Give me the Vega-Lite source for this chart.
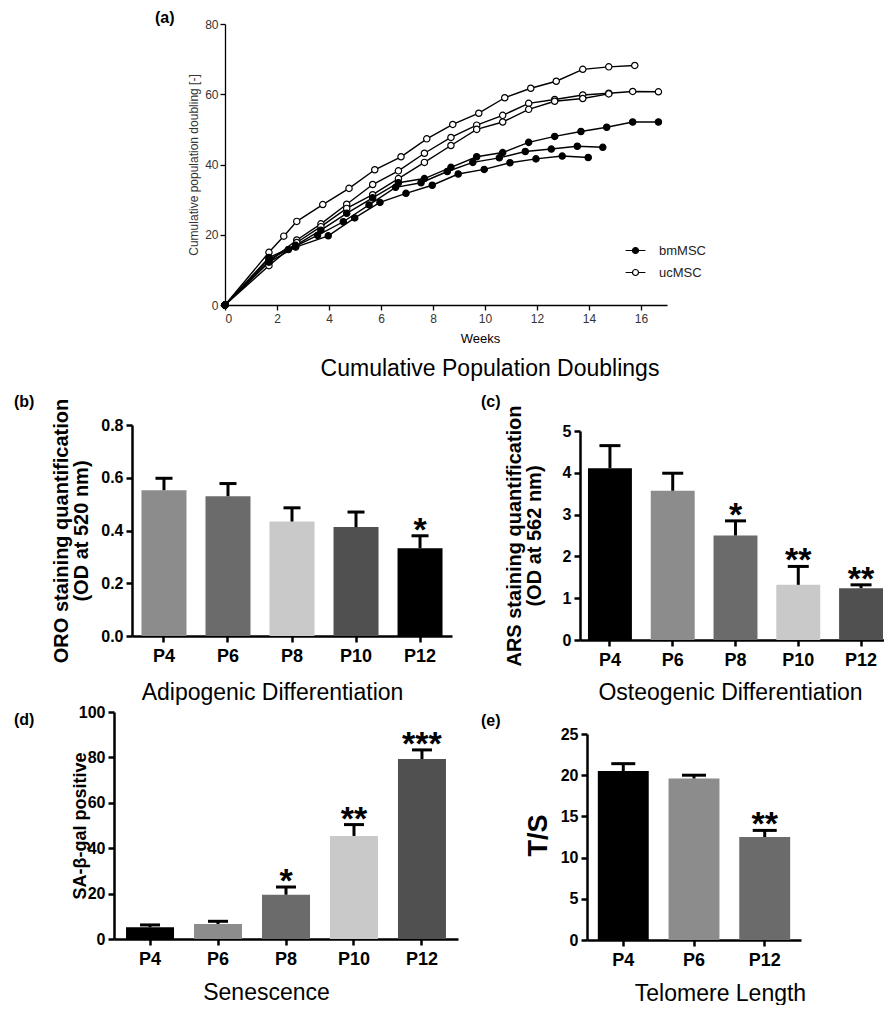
{
  "$schema": "https://vega.github.io/schema/vega-lite/v6.json",
  "background": "white",
  "padding": {"left": 13, "top": 10, "right": 0, "bottom": 0},
  "config": {
    "font": "Liberation Sans",
    "view": {"stroke": null},
    "axis": {"grid": false, "domainColor": "black", "tickColor": "black", "labelColor": "black", "titleColor": "black"},
    "title": {"font": "Liberation Sans", "fontWeight": "bold", "fontSize": 16, "anchor": "start", "frame": "group", "color": "black"}
  },
  "spacing": 0,
  "resolve": {"scale": {"color": "independent", "fill": "independent"}, "legend": {"fill": "independent"}},
  "vconcat": [
    {
      "spacing": 0,
      "resolve": {"scale": {"color": "independent", "fill": "independent"}, "legend": {"fill": "independent"}},
      "hconcat": [
        {"width": 142, "height": 10, "data": {"values": []}, "mark": "point", "encoding": {}},
        {
          "width": 442, "height": 281,
          "title": {"text": "(a)", "dx": -70, "offset": -8},
          "data": {"values": [
            {"run": "U1", "type": "ucMSC", "week": 0, "pd": 0},
            {"run": "U1", "type": "ucMSC", "week": 1.69, "pd": 15.0},
            {"run": "U1", "type": "ucMSC", "week": 2.26, "pd": 19.6},
            {"run": "U1", "type": "ucMSC", "week": 2.76, "pd": 23.8},
            {"run": "U1", "type": "ucMSC", "week": 3.76, "pd": 28.6},
            {"run": "U1", "type": "ucMSC", "week": 4.77, "pd": 33.2},
            {"run": "U1", "type": "ucMSC", "week": 5.76, "pd": 38.5},
            {"run": "U1", "type": "ucMSC", "week": 6.77, "pd": 42.2},
            {"run": "U1", "type": "ucMSC", "week": 7.76, "pd": 47.3},
            {"run": "U1", "type": "ucMSC", "week": 8.76, "pd": 51.4},
            {"run": "U1", "type": "ucMSC", "week": 9.76, "pd": 54.6},
            {"run": "U1", "type": "ucMSC", "week": 10.76, "pd": 59.0},
            {"run": "U1", "type": "ucMSC", "week": 11.76, "pd": 61.7},
            {"run": "U1", "type": "ucMSC", "week": 12.74, "pd": 63.7},
            {"run": "U1", "type": "ucMSC", "week": 13.76, "pd": 67.1},
            {"run": "U1", "type": "ucMSC", "week": 14.76, "pd": 67.8},
            {"run": "U1", "type": "ucMSC", "week": 15.76, "pd": 68.2},
            {"run": "U2", "type": "ucMSC", "week": 0, "pd": 0},
            {"run": "U2", "type": "ucMSC", "week": 1.69, "pd": 12.3},
            {"run": "U2", "type": "ucMSC", "week": 2.76, "pd": 18.5},
            {"run": "U2", "type": "ucMSC", "week": 3.69, "pd": 23.1},
            {"run": "U2", "type": "ucMSC", "week": 4.68, "pd": 28.7},
            {"run": "U2", "type": "ucMSC", "week": 5.68, "pd": 34.3},
            {"run": "U2", "type": "ucMSC", "week": 6.67, "pd": 38.2},
            {"run": "U2", "type": "ucMSC", "week": 7.67, "pd": 43.2},
            {"run": "U2", "type": "ucMSC", "week": 8.69, "pd": 47.7},
            {"run": "U2", "type": "ucMSC", "week": 9.68, "pd": 51.2},
            {"run": "U2", "type": "ucMSC", "week": 10.68, "pd": 54.0},
            {"run": "U2", "type": "ucMSC", "week": 11.68, "pd": 57.4},
            {"run": "U2", "type": "ucMSC", "week": 12.68, "pd": 58.5},
            {"run": "U2", "type": "ucMSC", "week": 13.76, "pd": 59.8},
            {"run": "U2", "type": "ucMSC", "week": 14.76, "pd": 60.3},
            {"run": "U2", "type": "ucMSC", "week": 15.68, "pd": 60.8},
            {"run": "U2", "type": "ucMSC", "week": 16.67, "pd": 60.7},
            {"run": "U3", "type": "ucMSC", "week": 0, "pd": 0},
            {"run": "U3", "type": "ucMSC", "week": 1.69, "pd": 11.2},
            {"run": "U3", "type": "ucMSC", "week": 2.76, "pd": 17.8},
            {"run": "U3", "type": "ucMSC", "week": 3.69, "pd": 22.3},
            {"run": "U3", "type": "ucMSC", "week": 4.68, "pd": 27.5},
            {"run": "U3", "type": "ucMSC", "week": 5.68, "pd": 31.4},
            {"run": "U3", "type": "ucMSC", "week": 6.67, "pd": 36.0},
            {"run": "U3", "type": "ucMSC", "week": 7.67, "pd": 40.6},
            {"run": "U3", "type": "ucMSC", "week": 8.69, "pd": 45.4},
            {"run": "U3", "type": "ucMSC", "week": 9.68, "pd": 50.0},
            {"run": "U3", "type": "ucMSC", "week": 10.68, "pd": 52.1},
            {"run": "U3", "type": "ucMSC", "week": 11.68, "pd": 55.7},
            {"run": "U3", "type": "ucMSC", "week": 12.68, "pd": 58.0},
            {"run": "U3", "type": "ucMSC", "week": 13.76, "pd": 58.8},
            {"run": "U3", "type": "ucMSC", "week": 14.76, "pd": 60.1},
            {"run": "B1", "type": "bmMSC", "week": 0, "pd": 0},
            {"run": "B1", "type": "bmMSC", "week": 1.69, "pd": 13.5},
            {"run": "B1", "type": "bmMSC", "week": 2.72, "pd": 17.0},
            {"run": "B1", "type": "bmMSC", "week": 3.69, "pd": 21.3},
            {"run": "B1", "type": "bmMSC", "week": 4.68, "pd": 26.1},
            {"run": "B1", "type": "bmMSC", "week": 5.68, "pd": 30.5},
            {"run": "B1", "type": "bmMSC", "week": 6.67, "pd": 34.8},
            {"run": "B1", "type": "bmMSC", "week": 7.67, "pd": 36.0},
            {"run": "B1", "type": "bmMSC", "week": 8.69, "pd": 39.2},
            {"run": "B1", "type": "bmMSC", "week": 9.68, "pd": 42.2},
            {"run": "B1", "type": "bmMSC", "week": 10.68, "pd": 43.4},
            {"run": "B1", "type": "bmMSC", "week": 11.68, "pd": 46.3},
            {"run": "B1", "type": "bmMSC", "week": 12.68, "pd": 48.0},
            {"run": "B1", "type": "bmMSC", "week": 13.69, "pd": 49.4},
            {"run": "B1", "type": "bmMSC", "week": 14.68, "pd": 50.6},
            {"run": "B1", "type": "bmMSC", "week": 15.68, "pd": 52.1},
            {"run": "B1", "type": "bmMSC", "week": 16.67, "pd": 52.1},
            {"run": "B2", "type": "bmMSC", "week": 0, "pd": 0},
            {"run": "B2", "type": "bmMSC", "week": 1.69, "pd": 13.0},
            {"run": "B2", "type": "bmMSC", "week": 2.44, "pd": 15.8},
            {"run": "B2", "type": "bmMSC", "week": 3.56, "pd": 19.8},
            {"run": "B2", "type": "bmMSC", "week": 4.55, "pd": 23.7},
            {"run": "B2", "type": "bmMSC", "week": 5.54, "pd": 28.5},
            {"run": "B2", "type": "bmMSC", "week": 6.56, "pd": 33.5},
            {"run": "B2", "type": "bmMSC", "week": 7.54, "pd": 34.8},
            {"run": "B2", "type": "bmMSC", "week": 8.55, "pd": 38.0},
            {"run": "B2", "type": "bmMSC", "week": 9.53, "pd": 40.6},
            {"run": "B2", "type": "bmMSC", "week": 10.55, "pd": 41.9},
            {"run": "B2", "type": "bmMSC", "week": 11.55, "pd": 43.7},
            {"run": "B2", "type": "bmMSC", "week": 12.55, "pd": 44.4},
            {"run": "B2", "type": "bmMSC", "week": 13.55, "pd": 45.2},
            {"run": "B2", "type": "bmMSC", "week": 14.53, "pd": 44.9},
            {"run": "B3", "type": "bmMSC", "week": 0, "pd": 0},
            {"run": "B3", "type": "bmMSC", "week": 1.69, "pd": 12.2},
            {"run": "B3", "type": "bmMSC", "week": 2.72, "pd": 16.5},
            {"run": "B3", "type": "bmMSC", "week": 3.97, "pd": 19.7},
            {"run": "B3", "type": "bmMSC", "week": 4.99, "pd": 24.8},
            {"run": "B3", "type": "bmMSC", "week": 5.96, "pd": 29.2},
            {"run": "B3", "type": "bmMSC", "week": 6.96, "pd": 31.8},
            {"run": "B3", "type": "bmMSC", "week": 7.97, "pd": 34.1},
            {"run": "B3", "type": "bmMSC", "week": 8.97, "pd": 37.3},
            {"run": "B3", "type": "bmMSC", "week": 9.97, "pd": 38.6},
            {"run": "B3", "type": "bmMSC", "week": 10.96, "pd": 40.5},
            {"run": "B3", "type": "bmMSC", "week": 11.96, "pd": 41.6},
            {"run": "B3", "type": "bmMSC", "week": 12.97, "pd": 42.4},
            {"run": "B3", "type": "bmMSC", "week": 13.97, "pd": 42.0}
          ]},
          "layer": [
            {
              "mark": {"type": "line", "color": "black", "strokeWidth": 1.4},
              "encoding": {
                "x": {"field": "week", "type": "quantitative", "scale": {"domain": [0, 17], "nice": false},
                  "axis": {"values": [0, 2, 4, 6, 8, 10, 12, 14, 16], "title": "Weeks", "titleFontSize": 13, "titleFontWeight": "normal",
                    "titleX": 255, "titleY": 37, "titleBaseline": "alphabetic", "labelFontSize": 12, "labelColor": "#333",
                    "tickSize": 5, "tickWidth": 1.3, "domainWidth": 1.3, "labelPadding": 3}},
                "y": {"field": "pd", "type": "quantitative", "scale": {"domain": [0, 80], "nice": false},
                  "axis": {"values": [0, 20, 40, 60, 80], "title": "Cumulative population doubling [-]", "titleFontSize": 12,
                    "titleFontWeight": "normal", "titleX": -32, "titleY": 140.5, "titleBaseline": "middle", "titleColor": "#333",
                    "labelFontSize": 12, "labelColor": "#333", "tickSize": 5, "tickWidth": 1.3, "domainWidth": 1.3, "labelPadding": 2}},
                "detail": {"field": "run", "type": "nominal"}
              }
            },
            {
              "mark": {"type": "point", "stroke": "black", "strokeWidth": 1.2, "size": 40, "opacity": 1},
              "encoding": {
                "x": {"field": "week", "type": "quantitative",
                  "axis": {"orient": "bottom", "labels": false, "ticks": false, "domain": false,
                    "title": "Cumulative Population Doublings", "titleFontSize": 23, "titleFontWeight": "normal",
                    "titleX": 264.5, "titleY": 70, "titleBaseline": "alphabetic"}},
                "y": {"field": "pd", "type": "quantitative"},
                "fill": {"field": "type", "type": "nominal",
                  "scale": {"domain": ["bmMSC", "ucMSC"], "range": ["black", "white"]},
                  "legend": {"orient": "none", "legendX": 404, "legendY": 220, "title": null, "padding": 0,
                    "symbolType": "M-3.3,0H-1M1,0H3.3M-1,0A1,1 0 1,1 1,0A1,1 0 1,1 -1,0Z",
                    "symbolSize": 36, "symbolStrokeColor": "black", "symbolStrokeWidth": 1.2,
                    "labelFontSize": 13, "labelOffset": 17, "rowPadding": 8, "labelColor": "#222"}}
              }
            }
          ],
          "resolve": {"axis": {"x": "independent"}}
        }
      ]
    },
    {
      "spacing": 0,
      "resolve": {"scale": {"color": "independent"}},
      "hconcat": [
        {"width": 1, "height": 1, "data": {"values": []}, "mark": "point", "encoding": {}},
        {
          "spacing": 29,
          "resolve": {"scale": {"color": "independent"}},
          "hconcat": [
            {
              "spacing": 0,
              "resolve": {"scale": {"color": "independent"}},
              "vconcat": [
                {"width": 1, "height": 12.8, "data": {"values": []}, "mark": "point", "encoding": {}},
                {
                  "width": 320, "height": 211,
                  "title": {"text": "(b)", "dx": -118, "offset": -11.7},
                  "data": {"values": [
                    {"P": "P4", "v": 0.553, "e": 0.598, "sig": ""},
                    {"P": "P6", "v": 0.53, "e": 0.578, "sig": ""},
                    {"P": "P8", "v": 0.434, "e": 0.486, "sig": ""},
                    {"P": "P10", "v": 0.413, "e": 0.47, "sig": ""},
                    {"P": "P12", "v": 0.333, "e": 0.38, "sig": "*"}
                  ]},
                  "encoding": {
                    "x": {"field": "P", "type": "nominal", "sort": ["P4", "P6", "P8", "P10", "P12"],
                      "scale": {"paddingInner": 0.297, "paddingOuter": 0.148},
                      "axis": {"labelAngle": 0, "labelFontSize": 18, "labelFontWeight": "bold", "labelPadding": 5,
                        "tickSize": 6, "tickWidth": 2.5, "domainWidth": 2.5,
                        "title": "Adipogenic Differentiation", "titleFontSize": 23, "titleFontWeight": "normal",
                        "titleX": 140, "titleY": 63, "titleBaseline": "alphabetic"}}
                  },
                  "layer": [
                    {
                      "mark": {"type": "bar"},
                      "encoding": {
                        "y": {"field": "v", "type": "quantitative", "scale": {"domain": [0, 0.8], "nice": false},
                          "axis": {"values": [0, 0.2, 0.4, 0.6, 0.8], "format": ".1f", "labelFontSize": 16, "labelFontWeight": "bold",
                            "labelPadding": 3, "tickSize": 6, "tickWidth": 2.5, "domainWidth": 2.5,
                            "title": ["ORO staining quantification", "(OD at 520 nm)"], "titleFontSize": 20, "titleFontWeight": "bold",
                            "titleLineHeight": 20, "titleX": -71, "titleY": 105.5, "titleBaseline": "middle"}},
                        "color": {"field": "P", "type": "nominal", "legend": null,
                          "scale": {"domain": ["P4", "P6", "P8", "P10", "P12"], "range": ["#8c8c8c", "#6b6b6b", "#c9c9c9", "#505050", "#000000"]}}
                      }
                    },
                    {"mark": {"type": "rule", "color": "black", "strokeWidth": 3}, "encoding": {"y": {"field": "v", "type": "quantitative"}, "y2": {"field": "e"}}},
                    {"mark": {"type": "tick", "color": "black", "thickness": 3, "size": 17, "opacity": 1}, "encoding": {"y": {"field": "e", "type": "quantitative"}}},
                    {"mark": {"type": "text", "fontSize": 34, "fontWeight": "bold", "baseline": "alphabetic", "dy": 5, "color": "black"},
                      "encoding": {"y": {"field": "e", "type": "quantitative"}, "text": {"field": "sig"}}}
                  ]
                }
              ]
            },
            {
              "spacing": 0,
              "resolve": {"scale": {"color": "independent"}},
              "vconcat": [
                {"width": 1, "height": 13.8, "data": {"values": []}, "mark": "point", "encoding": {}},
                {
                  "width": 311, "height": 209,
                  "title": {"text": "(c)", "dx": -99, "offset": -5.1},
                  "data": {"values": [
                    {"P": "P4", "v": 4.11, "e": 4.65, "sig": ""},
                    {"P": "P6", "v": 3.57, "e": 3.99, "sig": ""},
                    {"P": "P8", "v": 2.5, "e": 2.85, "sig": "*"},
                    {"P": "P10", "v": 1.32, "e": 1.76, "sig": "**"},
                    {"P": "P12", "v": 1.24, "e": 1.32, "sig": "**"}
                  ]},
                  "encoding": {
                    "x": {"field": "P", "type": "nominal", "sort": ["P4", "P6", "P8", "P10", "P12"],
                      "scale": {"paddingInner": 0.3, "paddingOuter": 0.127},
                      "axis": {"labelAngle": 0, "labelFontSize": 18, "labelFontWeight": "bold", "labelPadding": 5,
                        "tickSize": 6, "tickWidth": 2.5, "domainWidth": 2.5,
                        "title": "Osteogenic Differentiation", "titleFontSize": 23, "titleFontWeight": "normal",
                        "titleX": 150, "titleY": 59, "titleBaseline": "alphabetic"}}
                  },
                  "layer": [
                    {
                      "mark": {"type": "bar"},
                      "encoding": {
                        "y": {"field": "v", "type": "quantitative", "scale": {"domain": [0, 5], "nice": false},
                          "axis": {"values": [0, 1, 2, 3, 4, 5], "format": "d", "labelFontSize": 16, "labelFontWeight": "bold",
                            "labelPadding": 3, "tickSize": 6, "tickWidth": 2.5, "domainWidth": 2.5,
                            "title": ["ARS staining quantification", "(OD at 562 nm)"], "titleFontSize": 20, "titleFontWeight": "bold",
                            "titleLineHeight": 20, "titleX": -66, "titleY": 104.5, "titleBaseline": "middle"}},
                        "color": {"field": "P", "type": "nominal", "legend": null,
                          "scale": {"domain": ["P4", "P6", "P8", "P10", "P12"], "range": ["#000000", "#8c8c8c", "#6b6b6b", "#c9c9c9", "#505050"]}}
                      }
                    },
                    {"mark": {"type": "rule", "color": "black", "strokeWidth": 3}, "encoding": {"y": {"field": "v", "type": "quantitative"}, "y2": {"field": "e"}}},
                    {"mark": {"type": "tick", "color": "black", "thickness": 3, "size": 21, "opacity": 1}, "encoding": {"y": {"field": "e", "type": "quantitative"}}},
                    {"mark": {"type": "text", "fontSize": 34, "fontWeight": "bold", "baseline": "alphabetic", "dy": 5, "color": "black"},
                      "encoding": {"y": {"field": "e", "type": "quantitative"}, "text": {"field": "sig"}}}
                  ]
                }
              ]
            }
          ]
        }
      ]
    },
    {
      "spacing": 0,
      "resolve": {"scale": {"color": "independent"}},
      "hconcat": [
        {"width": 1, "height": 1, "data": {"values": []}, "mark": "point", "encoding": {}},
        {
          "spacing": 23,
          "resolve": {"scale": {"color": "independent"}},
          "hconcat": [
            {
              "width": 344, "height": 227,
              "title": {"text": "(d)", "dx": -100, "offset": -24},
              "data": {"values": [
                {"P": "P4", "v": 5.2, "e": 6.2, "sig": ""},
                {"P": "P6", "v": 6.6, "e": 7.8, "sig": ""},
                {"P": "P8", "v": 19.5, "e": 22.9, "sig": "*"},
                {"P": "P10", "v": 45.4, "e": 50.4, "sig": "**"},
                {"P": "P12", "v": 79.3, "e": 83.3, "sig": "***"}
              ]},
              "encoding": {
                "x": {"field": "P", "type": "nominal", "sort": ["P4", "P6", "P8", "P10", "P12"],
                  "scale": {"paddingInner": 0.294, "paddingOuter": 0.177},
                  "axis": {"labelAngle": 0, "labelFontSize": 18, "labelFontWeight": "bold", "labelPadding": 5,
                    "tickSize": 6, "tickWidth": 2.5, "domainWidth": 2.5,
                    "title": "Senescence", "titleFontSize": 23, "titleFontWeight": "normal",
                    "titleX": 152, "titleY": 60, "titleBaseline": "alphabetic"}}
              },
              "layer": [
                {
                  "mark": {"type": "bar"},
                  "encoding": {
                    "y": {"field": "v", "type": "quantitative", "scale": {"domain": [0, 100], "nice": false},
                      "axis": {"values": [0, 20, 40, 60, 80, 100], "format": "d", "labelFontSize": 16, "labelFontWeight": "bold",
                        "labelPadding": 3, "tickSize": 6, "tickWidth": 2.5, "domainWidth": 2.5,
                        "title": "SA-β-gal positive", "titleFontSize": 18, "titleFontWeight": "bold",
                        "titleX": -34, "titleY": 113.5, "titleBaseline": "middle"}},
                    "color": {"field": "P", "type": "nominal", "legend": null,
                      "scale": {"domain": ["P4", "P6", "P8", "P10", "P12"], "range": ["#000000", "#8c8c8c", "#6b6b6b", "#c9c9c9", "#505050"]}}
                  }
                },
                {"mark": {"type": "rule", "color": "black", "strokeWidth": 3}, "encoding": {"y": {"field": "v", "type": "quantitative"}, "y2": {"field": "e"}}},
                {"mark": {"type": "tick", "color": "black", "thickness": 3, "size": 20, "opacity": 1}, "encoding": {"y": {"field": "e", "type": "quantitative"}}},
                {"mark": {"type": "text", "fontSize": 34, "fontWeight": "bold", "baseline": "alphabetic", "dy": 5, "color": "black"},
                  "encoding": {"y": {"field": "e", "type": "quantitative"}, "text": {"field": "sig"}}}
              ]
            },
            {
              "spacing": 0,
              "resolve": {"scale": {"color": "independent"}},
              "vconcat": [
                {"width": 1, "height": 1, "data": {"values": []}, "mark": "point", "encoding": {}},
                {
                  "width": 214, "height": 206,
                  "title": {"text": "(e)", "dx": -106, "offset": -3.3},
                  "data": {"values": [
                    {"P": "P4", "v": 20.5, "e": 21.4, "sig": ""},
                    {"P": "P6", "v": 19.6, "e": 20.0, "sig": ""},
                    {"P": "P12", "v": 12.5, "e": 13.3, "sig": "**"}
                  ]},
                  "encoding": {
                    "x": {"field": "P", "type": "nominal", "sort": ["P4", "P6", "P12"],
                      "scale": {"paddingInner": 0.28, "paddingOuter": 0.153},
                      "axis": {"labelAngle": 0, "labelFontSize": 18, "labelFontWeight": "bold", "labelPadding": 5,
                        "tickSize": 6, "tickWidth": 2.5, "domainWidth": 2.5,
                        "title": "Telomere Length", "titleFontSize": 23, "titleFontWeight": "normal",
                        "titleX": 133, "titleY": 60, "titleBaseline": "alphabetic"}}
                  },
                  "layer": [
                    {
                      "mark": {"type": "bar"},
                      "encoding": {
                        "y": {"field": "v", "type": "quantitative", "scale": {"domain": [0, 25], "nice": false},
                          "axis": {"values": [0, 5, 10, 15, 20, 25], "format": "d", "labelFontSize": 16, "labelFontWeight": "bold",
                            "labelPadding": 3, "tickSize": 6, "tickWidth": 2.5, "domainWidth": 2.5,
                            "title": "T/S", "titleFontSize": 27, "titleFontWeight": "bold",
                            "titleX": -49, "titleY": 101, "titleBaseline": "middle"}},
                        "color": {"field": "P", "type": "nominal", "legend": null,
                          "scale": {"domain": ["P4", "P6", "P12"], "range": ["#000000", "#8c8c8c", "#6b6b6b"]}}
                      }
                    },
                    {"mark": {"type": "rule", "color": "black", "strokeWidth": 3}, "encoding": {"y": {"field": "v", "type": "quantitative"}, "y2": {"field": "e"}}},
                    {"mark": {"type": "tick", "color": "black", "thickness": 3, "size": 24, "opacity": 1}, "encoding": {"y": {"field": "e", "type": "quantitative"}}},
                    {"mark": {"type": "text", "fontSize": 34, "fontWeight": "bold", "baseline": "alphabetic", "dy": 5, "color": "black"},
                      "encoding": {"y": {"field": "e", "type": "quantitative"}, "text": {"field": "sig"}}}
                  ]
                }
              ]
            }
          ]
        }
      ]
    }
  ]
}
